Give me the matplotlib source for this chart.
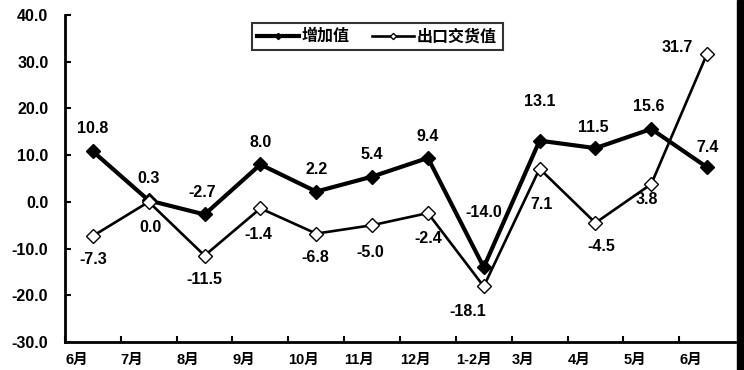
import numpy as np
import matplotlib.pyplot as plt
from matplotlib.patches import Rectangle

plt.rcParams['font.family'] = ['Liberation Sans', 'Noto Sans CJK SC']
plt.rcParams['font.weight'] = 'bold'

months = ['6月', '7月', '8月', '9月', '10月', '11月', '12月', '1-2月', '3月', '4月', '5月', '6月']
added_value = [10.8, 0.3, -2.7, 8.0, 2.2, 5.4, 9.4, -14.0, 13.1, 11.5, 15.6, 7.4]
export_value = [-7.3, 0.0, -11.5, -1.4, -6.8, -5.0, -2.4, -18.1, 7.1, -4.5, 3.8, 31.7]

# label offsets in pixels (dx, dy up)
added_off = [(0, 23), (0, 22), (-2, 22), (0, 22), (0, 22), (0, 22), (0, 21),
             (0, 55), (0, 39), (-2, 21), (-2, 22), (0, 20)]
export_off = [(0, -24), (2, -26), (0, -24), (-2, -26), (-1, -24), (-2, -27), (0, -25),
              (-16, -25), (2, -36), (6, -24), (-4, -15), (-30, 6)]

x = np.arange(len(months))

fig = plt.figure(figsize=(7.44, 3.70), dpi=100)
ax = fig.add_axes([65 / 744, 1 - 342 / 370, 670 / 744, 327 / 370])

ax.plot(x, added_value, color='black', lw=3.0, marker='D', ms=7,
        mfc='black', mec='black', label='增加值', zorder=3)
ax.plot(x, export_value, color='black', lw=1.9, marker='D', ms=7,
        mfc='white', mec='black', mew=1.0, label='出口交货值', zorder=4)

px = 0.72
for xi, v, (dx, dy) in zip(x, added_value, added_off):
    ax.annotate(f'{v:.1f}', (xi, v), xytext=(dx * px, dy * px), textcoords='offset points',
                ha='center', va='center', fontsize=11.5, fontweight='bold')
for xi, v, (dx, dy) in zip(x, export_value, export_off):
    ax.annotate(f'{v:.1f}', (xi, v), xytext=(dx * px, dy * px), textcoords='offset points',
                ha='center', va='center', fontsize=11.5, fontweight='bold')

ax.set_xlim(-0.5, 11.5)
ax.set_ylim(-30, 40)
ax.set_yticks(np.arange(-30, 41, 10))
ax.set_yticklabels([f'{v:.1f}' for v in np.arange(-30, 41, 10)], fontsize=11.5, fontweight='bold')
ax.set_xticks(x - 0.5)
ax.set_xticklabels(months, fontsize=10.5, fontweight='bold', ha='left')
ax.tick_params(axis='both', direction='in', length=4, width=1.5, color='black')
ax.tick_params(axis='x', pad=8)
ax.tick_params(axis='y', pad=12)
for s in ['top', 'right']:
    ax.spines[s].set_visible(False)
for s in ['left', 'bottom']:
    ax.spines[s].set_linewidth(2)

leg = ax.legend(loc='upper center', bbox_to_anchor=(0.466, 1.0), ncol=2, frameon=True,
                fancybox=False, edgecolor='black', handlelength=2.6, handletextpad=0.2,
                columnspacing=1.4, borderpad=0.35, markerscale=0.45,
                prop={'weight': 'bold', 'size': 11.5})
leg.get_frame().set_linewidth(1.5)

fig.patches.append(Rectangle((737 / 744, 0), 7 / 744, 1, transform=fig.transFigure,
                             color='black', zorder=10))

fig.savefig('out.png', dpi=100)
